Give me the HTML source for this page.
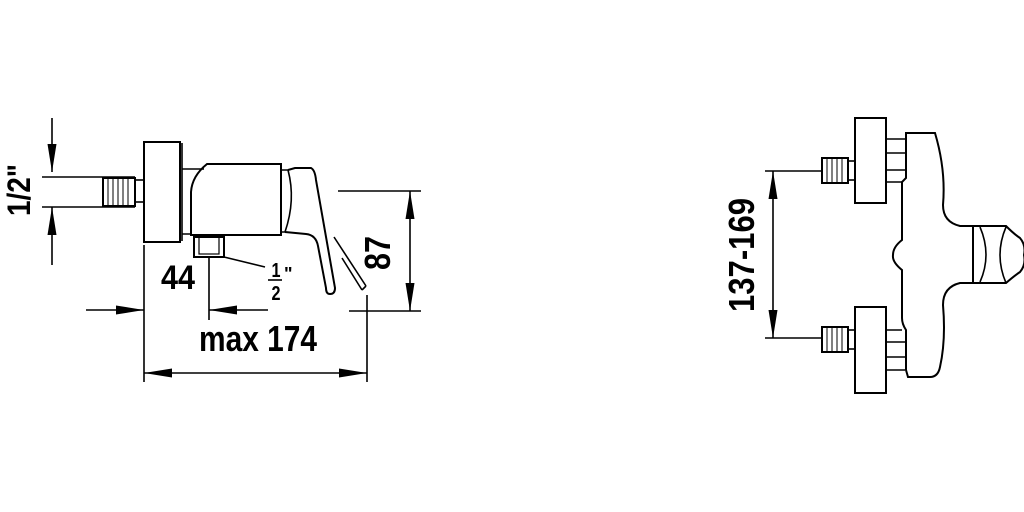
<!DOCTYPE html>
<html><head><style>html,body{margin:0;padding:0;background:#fff}svg{display:block}text{font-family:"Liberation Sans",sans-serif;font-weight:bold;fill:#000}</style></head>
<body>
<svg width="1024" height="512" viewBox="0 0 1024 512" xmlns="http://www.w3.org/2000/svg">
<defs>
<marker id="b" viewBox="0 0 10 10" refX="10" refY="5" markerWidth="28" markerHeight="9" preserveAspectRatio="none" orient="auto-start-reverse" markerUnits="userSpaceOnUse"><path d="M0,0 L10,5 L0,10 z" fill="#000"/></marker>
</defs>
<g fill="none" stroke="#000" stroke-width="1.6">
<line x1="52" y1="118" x2="52" y2="172" marker-end="url(#b)"/>
<line x1="52" y1="265" x2="52" y2="207" marker-end="url(#b)"/>
<line x1="42" y1="177" x2="135" y2="177"/>
<line x1="42" y1="207" x2="135" y2="207"/>
<rect x="103" y="178" width="32" height="28" stroke-width="2"/>
<path d="M108,178v28M113,178v28M118,178v28M123,178v28M128,178v28" stroke-width="1"/>
<rect x="135" y="180" width="9" height="22"/>
<rect x="144" y="142" width="36" height="100" stroke-width="2"/>
<line x1="182" y1="143" x2="182" y2="241"/>
<path d="M182,169 H204 M182,234 H192"/>
<path d="M207,164 H281 V235 H191 V192 Q192,176 207,164 Z" stroke-width="2"/>
<path d="M281,170 H288 Q296,200 285,232 H281" stroke-width="1.6"/>
<path d="M288,170 L295,168 H311 Q315,170 316,180 L335,288 Q335,294 330,294 Q326,294 326,288 L318,246 Q316,235 306,234 L285,232" stroke-width="2"/>
<line x1="334" y1="237" x2="366" y2="286"/>
<line x1="342" y1="258" x2="362" y2="290"/>
<path d="M366,286 L362,290"/>
<rect x="194" y="237" width="30" height="20" stroke-width="2"/>
<rect x="199" y="237" width="20" height="17" stroke-width="1.2"/>
<line x1="224" y1="257" x2="265" y2="267"/>
<line x1="209" y1="257" x2="209" y2="320"/>
<line x1="86" y1="310" x2="144" y2="310" marker-end="url(#b)"/>
<line x1="268" y1="310" x2="209" y2="310" marker-end="url(#b)"/>
<line x1="144" y1="245" x2="144" y2="382"/>
<line x1="367" y1="295" x2="367" y2="382"/>
<line x1="144" y1="373" x2="367" y2="373" marker-start="url(#b)" marker-end="url(#b)"/>
<line x1="338" y1="191" x2="421" y2="191"/>
<line x1="349" y1="311" x2="421" y2="311"/>
<line x1="410" y1="191" x2="410" y2="311" marker-start="url(#b)" marker-end="url(#b)"/>
<line x1="765" y1="171" x2="822" y2="171"/>
<line x1="765" y1="338" x2="822" y2="338"/>
<line x1="773" y1="171" x2="773" y2="338" marker-start="url(#b)" marker-end="url(#b)"/>
<rect x="822" y="158" width="26" height="25" stroke-width="2"/>
<path d="M827,158v25M832,158v25M837,158v25M842,158v25" stroke-width="1"/>
<rect x="848" y="161" width="7" height="19"/>
<rect x="822" y="327" width="26" height="25" stroke-width="2"/>
<path d="M827,327v25M832,327v25M837,327v25M842,327v25" stroke-width="1"/>
<rect x="848" y="330" width="7" height="19"/>
<rect x="855" y="118" width="31" height="85" stroke-width="2"/>
<rect x="855" y="307" width="31" height="86" stroke-width="2"/>
<path d="M886,139 H905 M886,153 H905 M886,170 H905 M886,182 H902"/>
<path d="M886,330 H902 M886,342 H905 M886,357 H905 M886,370 H905"/>
<path d="M906,133 H935 Q946,170 943,205 Q943,222 960,226 H973 V283 H960 Q943,287 943,305 Q946,340 940,367 Q938,377 930,377 H908 L906,370 V330 Q902,324 902,318 V270 Q892,262 893,255 Q893,247 902,240 V182 L906,178 Z" stroke-width="2"/>
<path d="M973,226 H1006 Q1014,234 1020,238 Q1026,245 1024,255 Q1026,265 1020,272 Q1014,276 1006,283 H973" stroke-width="2"/>
<path d="M980,227 Q992,255 980,282 M1006,227 Q994,255 1006,283"/>
</g>
<text x="0" y="0" font-size="32" transform="translate(30,190) rotate(-90)" text-anchor="middle" textLength="52" lengthAdjust="spacingAndGlyphs">1/2"</text>
<text x="178" y="289" font-size="34" text-anchor="middle" textLength="34" lengthAdjust="spacingAndGlyphs">44</text>
<text x="276" y="277" font-size="20" text-anchor="middle" textLength="9" lengthAdjust="spacingAndGlyphs">1</text>
<line x1="268" y1="280" x2="282" y2="280" stroke="#000" stroke-width="1.6"/>
<text x="276" y="300" font-size="20" text-anchor="middle" textLength="9" lengthAdjust="spacingAndGlyphs">2</text>
<text x="284" y="280" font-size="18">"</text>
<text x="258" y="351" font-size="36" text-anchor="middle" textLength="118" lengthAdjust="spacingAndGlyphs">max 174</text>
<text x="0" y="0" font-size="36" transform="translate(390,253) rotate(-90)" text-anchor="middle" textLength="34" lengthAdjust="spacingAndGlyphs">87</text>
<text x="0" y="0" font-size="36" transform="translate(754,255) rotate(-90)" text-anchor="middle" textLength="114" lengthAdjust="spacingAndGlyphs">137-169</text>
</svg>
</body></html>
